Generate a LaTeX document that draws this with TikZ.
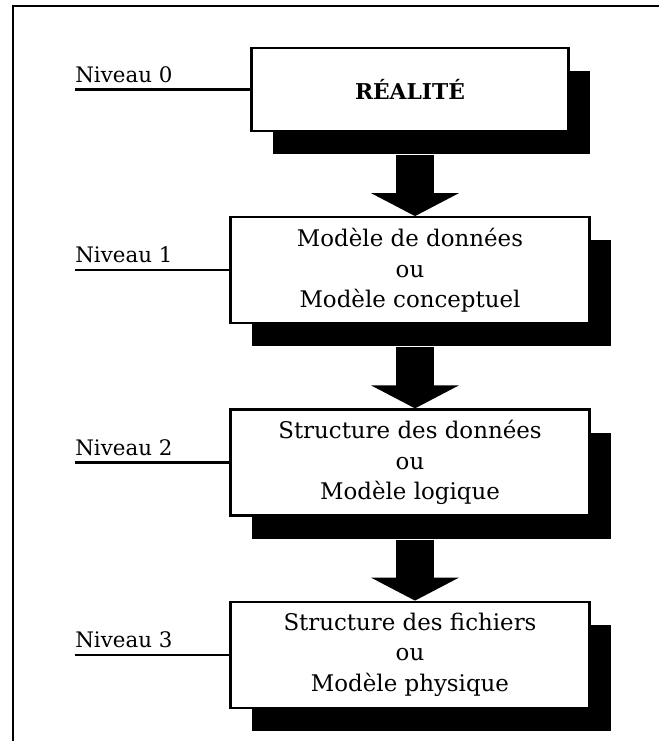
\documentclass[tikz,border=0pt]{standalone}
\usepackage{fontspec}
\setmainfont{DejaVu Serif}
\usepackage{tikz}
\usetikzlibrary{positioning,shadows,arrows.meta}

\tikzset{
  boite/.style={draw, line width=1.6pt, fill=white, align=center,
    minimum width=8.975cm, minimum height=2.65cm,
    font=\fontsize{16.3}{21.5}\selectfont,
    drop shadow={shadow xshift=0.525cm, shadow yshift=-0.575cm, fill=black, opacity=1}},
  niveau/.style={anchor=south west, inner xsep=0pt, inner ysep=0.17cm,
    font=\fontsize{15.2}{18}\selectfont},
  trait/.style={line width=1.5pt},
  fleche/.style={line width=0.95cm, -{Triangle[width=2.175cm,length=0.575cm]}},
  cadre/.style={line width=1.6pt}
}

\begin{document}
\begin{tikzpicture}
  \useasboundingbox (0,0) rectangle (16.475,-18.525);
  \draw[cadre] (0.325,-18.525) -- (0.325,-0.15) -- (16.475,-0.15);

  \node[boite, minimum width=7.925cm, minimum height=2.075cm,
        font=\fontsize{15.5}{18}\selectfont\bfseries] (b0) at (10.25,-2.2375) {RÉALITÉ};
  \node[boite, below=2.1cm of b0] (b1) {Modèle de données\\ou\\Modèle conceptuel};
  \node[boite, below=2.1cm of b1] (b2) {Structure des données\\ou\\Modèle logique};
  \node[boite, below=2.1cm of b2] (b3) {Structure des fichiers\\ou\\Modèle physique};

  % niveaux
  \coordinate (gauche) at (1.875,0);
  \node[niveau] (n0) at (gauche |- b0.west) {Niveau 0};
  \node[niveau] (n1) at (gauche |- b1.west) {Niveau 1};
  \node[niveau] (n2) at (gauche |- b2.west) {Niveau 2};
  \node[niveau] (n3) at (gauche |- b3.west) {Niveau 3};
  \draw[trait] (n0.south west) -- (b0.west);
  \draw[trait] (n1.south west) -- (b1.west);
  \draw[trait] (n2.south west) -- (b2.west);
  \draw[trait] (n3.south west) -- (b3.west);

  % fleches
  \draw[fleche] ([shift={(0.125,-0.575)}]b0.south) -- ([xshift=0.125cm]b1.north);
  \draw[fleche] ([shift={(0.125,-0.575)}]b1.south) -- ([xshift=0.125cm]b2.north);
  \draw[fleche] ([shift={(0.125,-0.575)}]b2.south) -- ([xshift=0.125cm]b3.north);
\end{tikzpicture}
\end{document}
